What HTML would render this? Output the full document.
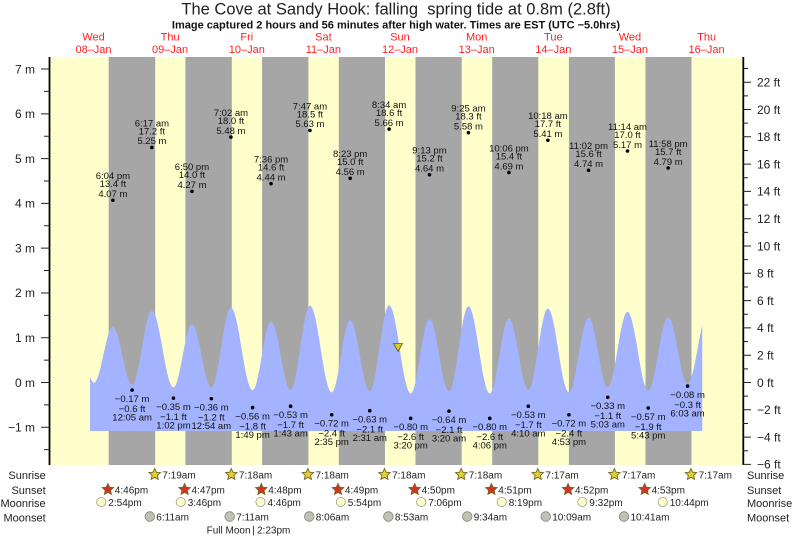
<!DOCTYPE html>
<html><head><meta charset="utf-8"><style>
html,body{margin:0;padding:0;background:#fff;}
svg{display:block;font-family:"Liberation Sans",Arial,sans-serif;}
.t{font-size:9.5px;fill:#111;text-anchor:middle;}
.d{font-size:11px;fill:#ff2020;text-anchor:middle;}
.al{font-size:12px;fill:#222;text-anchor:end;}
.ar{font-size:12px;fill:#222;}
.rl{font-size:11px;fill:#222;text-anchor:end;}
.rr{font-size:11px;fill:#222;}
.bt{font-size:10px;fill:#222;}
</style></head><body>
<svg width="793" height="539" viewBox="0 0 793 539" xmlns="http://www.w3.org/2000/svg">
<defs>
<polygon id="star" points="0,-6 1.65,-2.27 5.71,-1.85 2.66,0.87 3.53,4.85 0,2.8 -3.53,4.85 -2.66,0.87 -5.71,-1.85 -1.65,-2.27"/>
<clipPath id="wc"><rect x="90" y="0" width="612.3" height="539"/></clipPath>
</defs>

<text x="396" y="14.5" text-anchor="middle" style="font-size:16.5px;fill:#222;white-space:pre">The Cove at Sandy Hook: falling  spring tide at 0.8m (2.8ft)</text>
<text x="396" y="28.5" text-anchor="middle" style="font-size:11px;font-weight:bold;fill:#111">Image captured 2 hours and 56 minutes after high water. Times are EST (UTC −5.0hrs)</text>

<g>
<text class="d" x="93.5" y="40.7">Wed</text><text class="d" x="93.5" y="53">08–Jan</text>
<text class="d" x="170.1" y="40.7">Thu</text><text class="d" x="170.1" y="53">09–Jan</text>
<text class="d" x="246.8" y="40.7">Fri</text><text class="d" x="246.8" y="53">10–Jan</text>
<text class="d" x="323.4" y="40.7">Sat</text><text class="d" x="323.4" y="53">11–Jan</text>
<text class="d" x="400" y="40.7">Sun</text><text class="d" x="400" y="53">12–Jan</text>
<text class="d" x="476.7" y="40.7">Mon</text><text class="d" x="476.7" y="53">13–Jan</text>
<text class="d" x="553.3" y="40.7">Tue</text><text class="d" x="553.3" y="53">14–Jan</text>
<text class="d" x="629.9" y="40.7">Wed</text><text class="d" x="629.9" y="53">15–Jan</text>
<text class="d" x="706.6" y="40.7">Thu</text><text class="d" x="706.6" y="53">16–Jan</text>
</g>

<!-- plot background -->
<rect x="49" y="57" width="694" height="408" fill="#ffffcc"/>
<g fill="#a6a6a6">
<rect x="108.7" y="57" width="46.5" height="408"/>
<rect x="185.4" y="57" width="46.4" height="408"/>
<rect x="262.1" y="57" width="46.3" height="408"/>
<rect x="338.8" y="57" width="46.2" height="408"/>
<rect x="415.5" y="57" width="46.2" height="408"/>
<rect x="492.2" y="57" width="46.1" height="408"/>
<rect x="568.9" y="57" width="46.0" height="408"/>
<rect x="645.5" y="57" width="46.0" height="408"/>
</g>

<!-- water -->
<path clip-path="url(#wc)" fill="#a3b3ff" d="M74 319.7
C81.28 319.7,86.72 382.7,94 382.7
C100.88 382.7,106.01 326.94,112.89 326.94
C119.88 326.94,125.11 384.82,132.1 384.82
C139.3 384.82,144.69 310.84,151.89 310.84
C159.74 310.84,165.6 387.28,173.45 387.28
C180.19 387.28,185.23 324.21,191.97 324.21
C199.02 324.21,204.29 387.41,211.34 387.41
C218.47 387.41,223.79 307.70,230.92 307.70
C238.8 307.70,244.7 390.14,252.58 390.14
C259.3 390.14,264.33 321.89,271.05 321.89
C278.16 321.89,283.47 389.73,290.58 389.73
C297.63 389.73,302.9 305.65,309.95 305.65
C317.85 305.65,323.76 392.33,331.66 392.33
C338.4 392.33,343.44 320.26,350.18 320.26
C357.31 320.26,362.63 391.10,369.76 391.10
C376.79 391.10,382.05 305.24,389.08 305.24
C396.95 305.24,402.82 393.42,410.69 393.42
C417.53 393.42,422.63 319.16,429.47 319.16
C436.58 319.16,441.89 391.24,449.0 391.24
C456.07 391.24,461.36 306.33,468.43 306.33
C476.2 306.33,482.0 393.42,489.77 393.42
C496.74 393.42,501.96 318.48,508.93 318.48
C515.98 318.48,521.25 389.73,528.3 389.73
C535.43 389.73,540.75 308.65,547.88 308.65
C555.53 308.65,561.25 392.33,568.9 392.33
C576.05 392.33,581.39 317.80,588.54 317.80
C595.53 317.80,600.76 387.0,607.75 387.0
C614.94 387.0,620.3 311.93,627.49 311.93
C635.03 311.93,640.66 390.28,648.2 390.28
C655.46 390.28,660.89 317.12,668.15 317.12
C675.22 317.12,680.5 383.59,687.57 383.59
C694.82 383.59,700.25 314.25,707.5 314.25
L707.5 431 L74 431 Z"/>

<!-- now marker -->
<polygon points="393.5,343.5 402.5,343.5 398,351.5" fill="#d6ca2e" stroke="#6a6010" stroke-width="0.8"/>

<!-- axes -->
<line x1="49.5" y1="57" x2="49.5" y2="465" stroke="#000" stroke-width="1.8"/>
<line x1="743.3" y1="57" x2="743.3" y2="465" stroke="#000" stroke-width="1.8"/>
<path stroke="#222" stroke-width="1" fill="none" d="
M41 69.04H49 M41 113.82H49 M41 158.6H49 M41 203.38H49 M41 248.16H49 M41 292.94H49 M41 337.72H49 M41 382.5H49 M41 427.28H49
M44 91.43H49 M44 136.21H49 M44 180.99H49 M44 225.77H49 M44 270.55H49 M44 315.33H49 M44 360.11H49 M44 404.89H49 M44 449.67H49
M743 82.2H751 M743 109.5H751 M743 136.8H751 M743 164.1H751 M743 191.4H751 M743 218.7H751 M743 246H751 M743 273.3H751 M743 300.6H751 M743 327.9H751 M743 355.2H751 M743 382.5H751 M743 409.8H751 M743 437.1H751 M743 464.4H751
M743 68.55H748 M743 95.85H748 M743 123.15H748 M743 150.45H748 M743 177.75H748 M743 205.05H748 M743 232.35H748 M743 259.65H748 M743 286.95H748 M743 314.25H748 M743 341.55H748 M743 368.85H748 M743 396.15H748 M743 423.45H748 M743 450.75H748"/>

<g>
<text class="al" x="35" y="73.3">7 m</text>
<text class="al" x="35" y="118.1">6 m</text>
<text class="al" x="35" y="162.9">5 m</text>
<text class="al" x="35" y="207.7">4 m</text>
<text class="al" x="35" y="252.5">3 m</text>
<text class="al" x="35" y="297.2">2 m</text>
<text class="al" x="35" y="342">1 m</text>
<text class="al" x="35" y="386.8">0 m</text>
<text class="al" x="35" y="431.6">−1 m</text>
</g>
<g>
<text class="ar" x="757" y="86.5">22 ft</text>
<text class="ar" x="757" y="113.8">20 ft</text>
<text class="ar" x="757" y="141.1">18 ft</text>
<text class="ar" x="757" y="168.4">16 ft</text>
<text class="ar" x="757" y="195.7">14 ft</text>
<text class="ar" x="757" y="223">12 ft</text>
<text class="ar" x="757" y="250.3">10 ft</text>
<text class="ar" x="757" y="277.6">8 ft</text>
<text class="ar" x="757" y="304.9">6 ft</text>
<text class="ar" x="757" y="332.2">4 ft</text>
<text class="ar" x="757" y="359.5">2 ft</text>
<text class="ar" x="757" y="386.8">0 ft</text>
<text class="ar" x="757" y="414.1">−2 ft</text>
<text class="ar" x="757" y="441.4">−4 ft</text>
<text class="ar" x="757" y="468.7">−6 ft</text>
</g>

<!-- high tides -->
<g fill="#000">
<circle cx="112.89" cy="200.25" r="1.8"/><circle cx="151.89" cy="147.4" r="1.8"/><circle cx="191.97" cy="191.29" r="1.8"/>
<circle cx="230.92" cy="137.11" r="1.8"/><circle cx="271.05" cy="183.68" r="1.8"/><circle cx="309.95" cy="130.39" r="1.8"/>
<circle cx="350.18" cy="178.3" r="1.8"/><circle cx="389.08" cy="129.05" r="1.8"/><circle cx="429.47" cy="174.72" r="1.8"/>
<circle cx="468.43" cy="132.63" r="1.8"/><circle cx="508.93" cy="172.48" r="1.8"/><circle cx="547.88" cy="140.24" r="1.8"/>
<circle cx="588.54" cy="170.24" r="1.8"/><circle cx="627.49" cy="150.99" r="1.8"/><circle cx="668.15" cy="168" r="1.8"/>
</g>
<g>
<text class="t" x="112.89" y="179.2">6:04 pm</text><text class="t" x="112.89" y="187.2">13.4 ft</text><text class="t" x="112.89" y="197.1">4.07 m</text>
<text class="t" x="151.89" y="126.3">6:17 am</text><text class="t" x="151.89" y="134.3">17.2 ft</text><text class="t" x="151.89" y="144.2">5.25 m</text>
<text class="t" x="191.97" y="170.2">6:50 pm</text><text class="t" x="191.97" y="178.2">14.0 ft</text><text class="t" x="191.97" y="188.1">4.27 m</text>
<text class="t" x="230.92" y="116">7:02 am</text><text class="t" x="230.92" y="124">18.0 ft</text><text class="t" x="230.92" y="133.9">5.48 m</text>
<text class="t" x="271.05" y="162.6">7:36 pm</text><text class="t" x="271.05" y="170.6">14.6 ft</text><text class="t" x="271.05" y="180.5">4.44 m</text>
<text class="t" x="309.95" y="109.3">7:47 am</text><text class="t" x="309.95" y="117.3">18.5 ft</text><text class="t" x="309.95" y="127.2">5.63 m</text>
<text class="t" x="350.18" y="157.2">8:23 pm</text><text class="t" x="350.18" y="165.2">15.0 ft</text><text class="t" x="350.18" y="175.1">4.56 m</text>
<text class="t" x="389.08" y="108">8:34 am</text><text class="t" x="389.08" y="116">18.6 ft</text><text class="t" x="389.08" y="125.9">5.66 m</text>
<text class="t" x="429.47" y="153.6">9:13 pm</text><text class="t" x="429.47" y="161.6">15.2 ft</text><text class="t" x="429.47" y="171.5">4.64 m</text>
<text class="t" x="468.43" y="111.5">9:25 am</text><text class="t" x="468.43" y="119.5">18.3 ft</text><text class="t" x="468.43" y="129.4">5.58 m</text>
<text class="t" x="508.93" y="151.4">10:06 pm</text><text class="t" x="508.93" y="159.4">15.4 ft</text><text class="t" x="508.93" y="169.3">4.69 m</text>
<text class="t" x="547.88" y="119.1">10:18 am</text><text class="t" x="547.88" y="127.1">17.7 ft</text><text class="t" x="547.88" y="137">5.41 m</text>
<text class="t" x="588.54" y="149.1">11:02 pm</text><text class="t" x="588.54" y="157.1">15.6 ft</text><text class="t" x="588.54" y="167">4.74 m</text>
<text class="t" x="627.49" y="129.9">11:14 am</text><text class="t" x="627.49" y="137.9">17.0 ft</text><text class="t" x="627.49" y="147.8">5.17 m</text>
<text class="t" x="668.15" y="146.9">11:58 pm</text><text class="t" x="668.15" y="154.9">15.7 ft</text><text class="t" x="668.15" y="164.8">4.79 m</text>
</g>

<!-- low tides -->
<g fill="#000">
<circle cx="132.1" cy="390.11" r="1.8"/><circle cx="173.45" cy="398.17" r="1.8"/><circle cx="211.34" cy="398.62" r="1.8"/>
<circle cx="252.58" cy="407.58" r="1.8"/><circle cx="290.58" cy="406.23" r="1.8"/><circle cx="331.66" cy="414.74" r="1.8"/>
<circle cx="369.76" cy="410.71" r="1.8"/><circle cx="410.69" cy="418.32" r="1.8"/><circle cx="449" cy="411.16" r="1.8"/>
<circle cx="489.77" cy="418.32" r="1.8"/><circle cx="528.3" cy="406.23" r="1.8"/><circle cx="568.9" cy="414.74" r="1.8"/>
<circle cx="607.75" cy="397.28" r="1.8"/><circle cx="648.2" cy="408.02" r="1.8"/><circle cx="687.57" cy="386.08" r="1.8"/>
</g>
<g>
<text class="t" x="132.1" y="402">−0.17 m</text><text class="t" x="132.1" y="412">−0.6 ft</text><text class="t" x="132.1" y="420.5">12:05 am</text>
<text class="t" x="173.45" y="410.1">−0.35 m</text><text class="t" x="173.45" y="420.1">−1.1 ft</text><text class="t" x="173.45" y="428.6">1:02 pm</text>
<text class="t" x="211.34" y="410.5">−0.36 m</text><text class="t" x="211.34" y="420.5">−1.2 ft</text><text class="t" x="211.34" y="429">12:54 am</text>
<text class="t" x="252.58" y="419.5">−0.56 m</text><text class="t" x="252.58" y="429.5">−1.8 ft</text><text class="t" x="252.58" y="438">1:49 pm</text>
<text class="t" x="290.58" y="418.1">−0.53 m</text><text class="t" x="290.58" y="428.1">−1.7 ft</text><text class="t" x="290.58" y="436.6">1:43 am</text>
<text class="t" x="331.66" y="426.6">−0.72 m</text><text class="t" x="331.66" y="436.6">−2.4 ft</text><text class="t" x="331.66" y="445.1">2:35 pm</text>
<text class="t" x="369.76" y="422.6">−0.63 m</text><text class="t" x="369.76" y="432.6">−2.1 ft</text><text class="t" x="369.76" y="441.1">2:31 am</text>
<text class="t" x="410.69" y="430.2">−0.80 m</text><text class="t" x="410.69" y="440.2">−2.6 ft</text><text class="t" x="410.69" y="448.7">3:20 pm</text>
<text class="t" x="449" y="423.1">−0.64 m</text><text class="t" x="449" y="433.1">−2.1 ft</text><text class="t" x="449" y="441.6">3:20 am</text>
<text class="t" x="489.77" y="430.2">−0.80 m</text><text class="t" x="489.77" y="440.2">−2.6 ft</text><text class="t" x="489.77" y="448.7">4:06 pm</text>
<text class="t" x="528.3" y="418.1">−0.53 m</text><text class="t" x="528.3" y="428.1">−1.7 ft</text><text class="t" x="528.3" y="436.6">4:10 am</text>
<text class="t" x="568.9" y="426.6">−0.72 m</text><text class="t" x="568.9" y="436.6">−2.4 ft</text><text class="t" x="568.9" y="445.1">4:53 pm</text>
<text class="t" x="607.75" y="409.2">−0.33 m</text><text class="t" x="607.75" y="419.2">−1.1 ft</text><text class="t" x="607.75" y="427.7">5:03 am</text>
<text class="t" x="648.2" y="419.9">−0.57 m</text><text class="t" x="648.2" y="429.9">−1.9 ft</text><text class="t" x="648.2" y="438.4">5:43 pm</text>
<text class="t" x="687.57" y="398">−0.08 m</text><text class="t" x="687.57" y="408">−0.3 ft</text><text class="t" x="687.57" y="416.5">6:03 am</text>
</g>

<!-- bottom rows -->
<g>
<text class="rl" x="45.7" y="479">Sunrise</text>
<text class="rl" x="45.7" y="494">Sunset</text>
<text class="rl" x="45.7" y="507">Moonrise</text>
<text class="rl" x="45.7" y="521.5">Moonset</text>
<text class="rr" x="747" y="479">Sunrise</text>
<text class="rr" x="747" y="494">Sunset</text>
<text class="rr" x="747" y="507">Moonrise</text>
<text class="rr" x="747" y="521.5">Moonset</text>
</g>

<g fill="#dcd232" stroke="#7a6420" stroke-width="0.9">
<use href="#star" x="154.7" y="474.5"/><use href="#star" x="231.3" y="474.5"/><use href="#star" x="307.9" y="474.5"/>
<use href="#star" x="384.5" y="474.5"/><use href="#star" x="461.2" y="474.5"/><use href="#star" x="537.8" y="474.5"/>
<use href="#star" x="614.4" y="474.5"/><use href="#star" x="691" y="474.5"/>
</g>
<g fill="#d63220" stroke="#7a6420" stroke-width="0.9">
<use href="#star" x="107.9" y="489.5"/><use href="#star" x="184.6" y="489.5"/><use href="#star" x="261.3" y="489.5"/>
<use href="#star" x="338" y="489.5"/><use href="#star" x="414.7" y="489.5"/><use href="#star" x="491.4" y="489.5"/>
<use href="#star" x="568.1" y="489.5"/><use href="#star" x="644.7" y="489.5"/>
</g>
<g fill="#ffffc8" stroke="#999" stroke-width="0.8">
<circle cx="101.3" cy="502" r="4.6"/><circle cx="180.7" cy="502" r="4.6"/><circle cx="260.5" cy="502" r="4.6"/>
<circle cx="340.8" cy="502" r="4.6"/><circle cx="421.2" cy="502" r="4.6"/><circle cx="501.7" cy="502" r="4.6"/>
<circle cx="582.3" cy="502" r="4.6"/><circle cx="662.7" cy="502" r="4.6"/>
</g>
<g fill="#c2c2b2" stroke="#808080" stroke-width="0.8">
<circle cx="149.8" cy="516.5" r="4.8"/><circle cx="229.7" cy="516.5" r="4.8"/><circle cx="309.3" cy="516.5" r="4.8"/>
<circle cx="388.4" cy="516.5" r="4.8"/><circle cx="467.2" cy="516.5" r="4.8"/><circle cx="545.7" cy="516.5" r="4.8"/>
<circle cx="624" cy="516.5" r="4.8"/>
</g>

<g>
<text class="bt" x="162.3" y="478.6">7:19am</text><text class="bt" x="238.9" y="478.6">7:18am</text><text class="bt" x="315.5" y="478.6">7:18am</text>
<text class="bt" x="392.1" y="478.6">7:18am</text><text class="bt" x="468.8" y="478.6">7:18am</text><text class="bt" x="545.4" y="478.6">7:17am</text>
<text class="bt" x="622" y="478.6">7:17am</text><text class="bt" x="698.6" y="478.6">7:17am</text>

<text class="bt" x="114.8" y="493.6">4:46pm</text><text class="bt" x="191.5" y="493.6">4:47pm</text><text class="bt" x="268.2" y="493.6">4:48pm</text>
<text class="bt" x="344.9" y="493.6">4:49pm</text><text class="bt" x="421.6" y="493.6">4:50pm</text><text class="bt" x="498.3" y="493.6">4:51pm</text>
<text class="bt" x="575" y="493.6">4:52pm</text><text class="bt" x="651.6" y="493.6">4:53pm</text>

<text class="bt" x="108.3" y="506.1">2:54pm</text><text class="bt" x="187.7" y="506.1">3:46pm</text><text class="bt" x="267.5" y="506.1">4:46pm</text>
<text class="bt" x="347.8" y="506.1">5:54pm</text><text class="bt" x="428.2" y="506.1">7:06pm</text><text class="bt" x="508.7" y="506.1">8:19pm</text>
<text class="bt" x="589.3" y="506.1">9:32pm</text><text class="bt" x="669.7" y="506.1">10:44pm</text>

<text class="bt" x="156.3" y="520.6">6:11am</text><text class="bt" x="236.2" y="520.6">7:11am</text><text class="bt" x="315.8" y="520.6">8:06am</text>
<text class="bt" x="394.9" y="520.6">8:53am</text><text class="bt" x="473.7" y="520.6">9:34am</text><text class="bt" x="552.2" y="520.6">10:09am</text>
<text class="bt" x="630.5" y="520.6">10:41am</text>

<text class="bt" x="250.5" y="533.6" text-anchor="end">Full Moon</text>
<text class="bt" x="253.5" y="533.6" text-anchor="middle">|</text>
<text class="bt" x="257" y="533.6">2:23pm</text>
</g>
</svg>
</body></html>
